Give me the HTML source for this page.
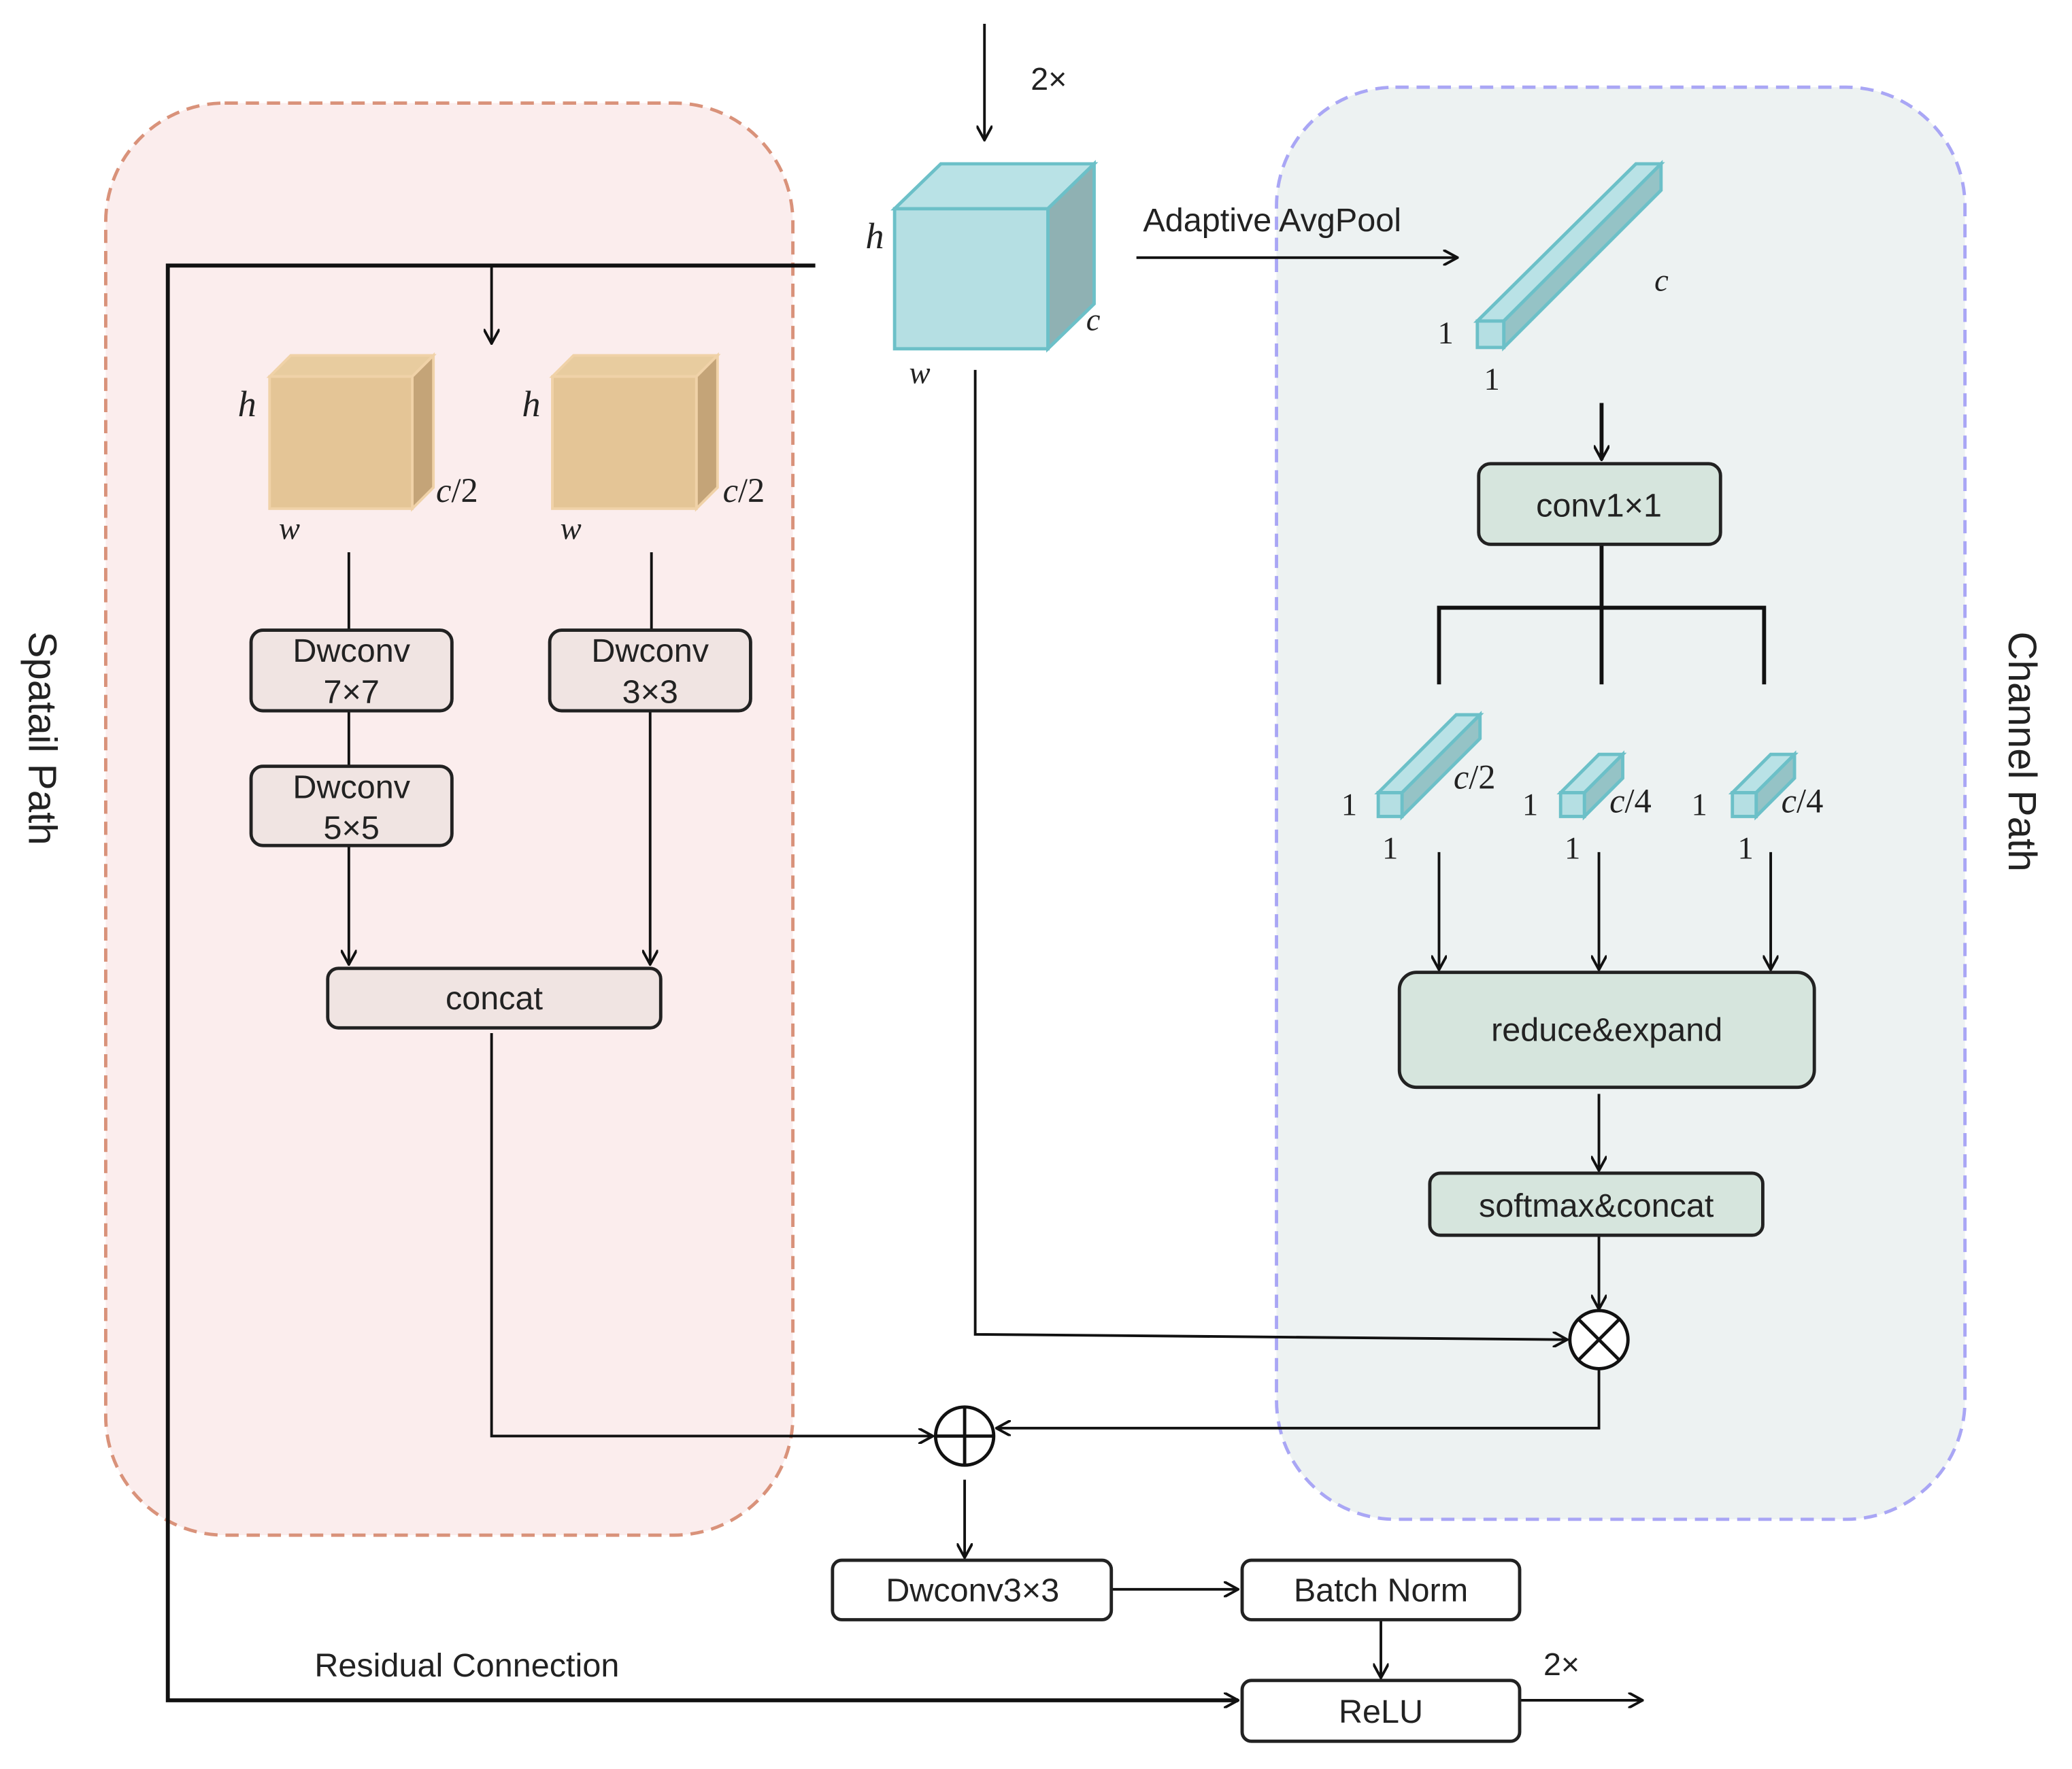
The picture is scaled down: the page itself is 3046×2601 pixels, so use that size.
<!DOCTYPE html>
<html><head><meta charset="utf-8">
<style>
html,body{margin:0;padding:0;background:#fff;}
svg{display:block;}
text{font-family:"Liberation Sans",sans-serif;fill:#222;}
.s{font-family:"Liberation Serif",serif;font-style:italic;}
.n{font-family:"Liberation Serif",serif;}
</style></head>
<body>
<svg width="3046" height="2601" viewBox="0 0 1568 1339" preserveAspectRatio="none" xmlns="http://www.w3.org/2000/svg">
<defs>
<marker id="a" markerWidth="12" markerHeight="12" refX="11" refY="6" orient="auto" markerUnits="userSpaceOnUse">
<path d="M0,0 L11,6 L0,12" fill="none" stroke="#111" stroke-width="2"/>
</marker>
</defs>
<rect width="1568" height="1339" fill="#fff"/>
<rect x="80" y="78" width="520" height="1084" rx="90" fill="#fbeded" stroke="#d9927a" stroke-width="2.5" stroke-dasharray="10,6"/>
<rect x="966" y="66" width="521" height="1084" rx="90" fill="#edf2f2" stroke="#a9a6f5" stroke-width="2.5" stroke-dasharray="10,6"/>

<g stroke="#111" stroke-width="2" fill="none">
<line x1="745" y1="18" x2="745" y2="106" marker-end="url(#a)"/>
<line x1="860" y1="195" x2="1103" y2="195" marker-end="url(#a)"/>
<line x1="1212" y1="305" x2="1212" y2="348" stroke-width="3" marker-end="url(#a)"/>
<path d="M1212 412 V518 M1089 518 V460 H1335 V518" stroke-width="3"/>
<line x1="1089" y1="645" x2="1089" y2="734" marker-end="url(#a)"/>
<line x1="1210" y1="645" x2="1210" y2="734" marker-end="url(#a)"/>
<line x1="1340" y1="645" x2="1340" y2="734" marker-end="url(#a)"/>
<line x1="1210" y1="828" x2="1210" y2="886" marker-end="url(#a)"/>
<line x1="1210" y1="935" x2="1210" y2="991" marker-end="url(#a)"/>
<path d="M738 280 V1010 L1186 1014" marker-end="url(#a)"/>
<path d="M1210 1036 V1081 H754" marker-end="url(#a)"/>
<path d="M372 782 V1087 H706" marker-end="url(#a)"/>
<line x1="730" y1="1120" x2="730" y2="1179" marker-end="url(#a)"/>
<line x1="841" y1="1203" x2="937" y2="1203" marker-end="url(#a)"/>
<line x1="1045" y1="1226" x2="1045" y2="1270" marker-end="url(#a)"/>
<line x1="1150" y1="1287" x2="1243" y2="1287" marker-end="url(#a)"/>
<path d="M617 201 H127 V1287 H937" stroke-width="3" marker-end="url(#a)"/>
<line x1="372" y1="201" x2="372" y2="260" marker-end="url(#a)"/>
<line x1="264" y1="418" x2="264" y2="477"/>
<line x1="493" y1="418" x2="493" y2="477"/>
<line x1="264" y1="538" x2="264" y2="580"/>
<line x1="264" y1="640" x2="264" y2="730" marker-end="url(#a)"/>
<line x1="492" y1="538" x2="492" y2="730" marker-end="url(#a)"/>
</g>

<g stroke="#6cc0c8" stroke-width="2.5">
<polygon points="677,158 712,124 828,124 793,158" fill="#b9e2e6"/>
<polygon points="793,158 828,124 828,230 793,264" fill="#8fb1b3"/>
<rect x="677" y="158" width="116" height="106" fill="#b5dfe3"/>
</g>
<text x="655" y="188" class="s" font-size="28">h</text>
<text x="822" y="250" class="s" font-size="24">c</text>
<text x="688" y="290" class="s" font-size="24">w</text>
<text x="780" y="68" font-size="24">2×</text>
<text x="865" y="175" font-size="25">Adaptive AvgPool</text>

<g stroke="#6cc0c8" stroke-width="2.5">
<polygon points="1118,243 1238,124 1257,124 1138,243" fill="#b9e2e6"/>
<polygon points="1138,243 1257,124 1257,144 1138,263" fill="#95c3c6"/>
<rect x="1118" y="243" width="20" height="20" fill="#b5dfe3"/>
</g>
<text x="1252" y="220" class="s" font-size="24">c</text>
<text x="1088" y="260" class="n" font-size="24">1</text>
<text x="1123" y="295" class="n" font-size="24">1</text>

<g stroke="#6cc0c8" stroke-width="2.5">
<polygon points="1043,600 1102,541 1120,541 1061,600" fill="#b9e2e6"/>
<polygon points="1061,600 1120,541 1120,559 1061,618" fill="#95c3c6"/>
<rect x="1043" y="600" width="18" height="18" fill="#b5dfe3"/>
<polygon points="1181,600 1210,571 1228,571 1199,600" fill="#b9e2e6"/>
<polygon points="1199,600 1228,571 1228,589 1199,618" fill="#95c3c6"/>
<rect x="1181" y="600" width="18" height="18" fill="#b5dfe3"/>
<polygon points="1311,600 1340,571 1358,571 1329,600" fill="#b9e2e6"/>
<polygon points="1329,600 1358,571 1358,589 1329,618" fill="#95c3c6"/>
<rect x="1311" y="600" width="18" height="18" fill="#b5dfe3"/>
</g>
<g font-size="24">
<text x="1015" y="617" class="n">1</text><text x="1046" y="650" class="n">1</text>
<text x="1152" y="617" class="n">1</text><text x="1184" y="650" class="n">1</text>
<text x="1280" y="617" class="n">1</text><text x="1315" y="650" class="n">1</text>
</g>
<text x="1100" y="597" class="s" font-size="26">c<tspan font-style="normal">/2</tspan></text>
<text x="1218" y="615" class="s" font-size="26">c<tspan font-style="normal">/4</tspan></text>
<text x="1348" y="615" class="s" font-size="26">c<tspan font-style="normal">/4</tspan></text>

<g fill="#d6e5dd" stroke="#222" stroke-width="2.5">
<rect x="1119" y="351" width="183" height="61" rx="9"/>
<rect x="1059" y="736" width="314" height="87" rx="13"/>
<rect x="1082" y="888" width="252" height="47" rx="8"/>
</g>
<text x="1210" y="391" font-size="25" text-anchor="middle">conv1×1</text>
<text x="1216" y="788" font-size="25" text-anchor="middle">reduce&amp;expand</text>
<text x="1208" y="921" font-size="25" text-anchor="middle">softmax&amp;concat</text>

<g stroke="#111" stroke-width="2.5" fill="#fff">
<circle cx="1210" cy="1014" r="22"/>
<path d="M1194.5 998.5 L1225.5 1029.5 M1225.5 998.5 L1194.5 1029.5" fill="none"/>
<circle cx="730" cy="1087" r="22"/>
<path d="M708 1087 H752 M730 1065 V1109" fill="none"/>
</g>

<g stroke="#f0d2a8" stroke-width="2">
<polygon points="204,285 220,269 328,269 312,285" fill="#e8cc9f"/>
<polygon points="312,285 328,269 328,369 312,385" fill="#c4a478"/>
<rect x="204" y="285" width="108" height="100" fill="#e4c596"/>
<polygon points="418,285 434,269 543,269 527,285" fill="#e8cc9f"/>
<polygon points="527,285 543,269 543,369 527,385" fill="#c4a478"/>
<rect x="418" y="285" width="109" height="100" fill="#e4c596"/>
</g>
<text x="180" y="315" class="s" font-size="28">h</text>
<text x="395" y="315" class="s" font-size="28">h</text>
<text x="330" y="380" class="s" font-size="26">c<tspan font-style="normal">/2</tspan></text>
<text x="547" y="380" class="s" font-size="26">c<tspan font-style="normal">/2</tspan></text>
<text x="211" y="408" class="s" font-size="24">w</text>
<text x="424" y="408" class="s" font-size="24">w</text>

<g fill="#f0e4e2" stroke="#222" stroke-width="2.5">
<rect x="190" y="477" width="152" height="61" rx="9"/>
<rect x="190" y="580" width="152" height="60" rx="9"/>
<rect x="416" y="477" width="152" height="61" rx="9"/>
<rect x="248" y="733" width="252" height="45" rx="8"/>
</g>
<g font-size="25" text-anchor="middle">
<text x="266" y="501">Dwconv</text><text x="266" y="532">7×7</text>
<text x="266" y="604">Dwconv</text><text x="266" y="635">5×5</text>
<text x="492" y="501">Dwconv</text><text x="492" y="532">3×3</text>
<text x="374" y="764">concat</text>
</g>

<g fill="#fff" stroke="#222" stroke-width="2.5">
<rect x="630" y="1181" width="211" height="45" rx="7"/>
<rect x="940" y="1181" width="210" height="45" rx="7"/>
<rect x="940" y="1272" width="210" height="46" rx="7"/>
</g>
<g font-size="25" text-anchor="middle">
<text x="736" y="1212">Dwconv3×3</text>
<text x="1045" y="1212">Batch Norm</text>
<text x="1045" y="1304">ReLU</text>
</g>
<text x="238" y="1269" font-size="25">Residual Connection</text>
<text x="1168" y="1268" font-size="24">2×</text>

<text x="0" y="0" font-size="30" transform="translate(22,478) rotate(90)">Spatail Path</text>
<text x="0" y="0" font-size="30" transform="translate(1520,478) rotate(90)">Channel Path</text>
</svg>
</body></html>
